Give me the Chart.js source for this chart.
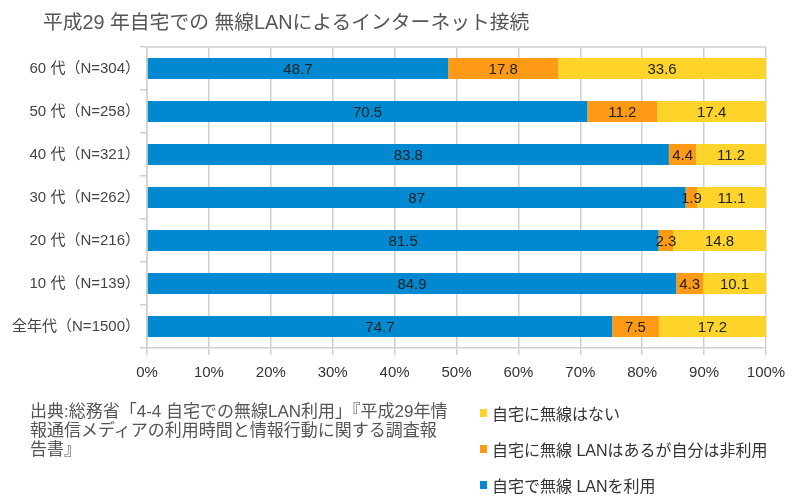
<!DOCTYPE html>
<html>
<head>
<meta charset="utf-8">
<script src="https://cdn.jsdelivr.net/npm/chart.js@4"></script>
<style>
  html,body{margin:0;padding:0;background:#fff;}
  body{width:806px;height:501px;position:relative;overflow:hidden;font-family:"Liberation Sans","Noto Sans CJK JP",sans-serif;}
  #c{position:absolute;left:0;top:0;}
  #title{position:absolute;left:43px;top:6px;font-size:19.8px;color:#555;white-space:nowrap;}
  #source{position:absolute;left:30px;top:402px;width:422px;font-size:17px;line-height:19px;color:#555;}
  #legend{position:absolute;left:480px;top:401px;font-size:16px;color:#333;}
  .li{height:36px;display:flex;align-items:flex-start;white-space:nowrap;}
  .sw{width:7px;height:8px;margin-top:8px;margin-right:5px;}
</style>
</head>
<body>
<canvas id="c" width="806" height="501"></canvas>
<div id="title">平成29 年自宅での 無線LANによるインターネット接続</div>
<div id="source">出典:総務省「4-4 自宅での無線LAN利用」『平成29年情報通信メディアの利用時間と情報行動に関する調査報告書』</div>
<div id="legend"></div>
<script>
const categories = ["60 代（N=304）","50 代（N=258）","40 代（N=321）","30 代（N=262）","20 代（N=216）","10 代（N=139）","全年代（N=1500）"];
const useAtHome   = [48.7, 70.5, 83.8, 87, 81.5, 84.9, 74.7];
const haveNotUse  = [17.8, 11.2, 4.4, 1.9, 2.3, 4.3, 7.5];
const noWireless  = [33.6, 17.4, 11.2, 11.1, 14.8, 10.1, 17.2];
const seriesNames = ["自宅で無線 LANを利用","自宅に無線 LANはあるが自分は非利用","自宅に無線はない"];
const seriesColors = ["#0089d1","#ff9a16","#ffd42a"];
const xTicks = [0,10,20,30,40,50,60,70,80,90,100];

// 100% stacked: each row is normalised to its own total
const series = [useAtHome, haveNotUse, noWireless];
const totals = categories.map((_,i)=>series.reduce((s,d)=>s+d[i],0));
const datasets = series.map((d,i)=>({
  label: seriesNames[i],
  data: d.map((v,j)=>v/totals[j]*100),
  raw: d,
  backgroundColor: seriesColors[i],
  borderWidth: 0, barPercentage: 0.49, categoryPercentage: 1
}));

const labelPlugin = {
  id:'vals',
  afterDatasetsDraw(chart){
    const ctx = chart.ctx;
    ctx.save();
    ctx.font = '15px "Liberation Sans", Arial, sans-serif';
    ctx.fillStyle = '#222';
    ctx.textAlign = 'center';
    ctx.textBaseline = 'middle';
    chart.data.datasets.forEach((ds,di)=>{
      const meta = chart.getDatasetMeta(di);
      meta.data.forEach((bar,i)=>{
        const x = (bar.x + bar.base)/2;
        ctx.fillText(String(ds.raw[i]), x, bar.y+1);
      });
    });
    ctx.restore();
  }
};
const borderPlugin = {
  id:'box',
  afterDraw(chart){
    const a = chart.chartArea, ctx = chart.ctx;
    ctx.save();
    ctx.strokeStyle = '#cfcfcf';
    ctx.lineWidth = 1.5;
    ctx.beginPath();
    ctx.moveTo(a.left, a.top); ctx.lineTo(a.right, a.top);
    ctx.stroke();
    ctx.restore();
  }
};

new Chart(document.getElementById('c'), {
  type:'bar',
  data:{ labels: categories, datasets },
  options:{
    indexAxis:'y',
    responsive:false,
    animation:false,
    layout:{ padding:{ top:47, right:40, left:0, bottom:113 } },
    plugins:{ legend:{display:false}, title:{display:false}, tooltip:{enabled:false} },
    scales:{
      x:{
        stacked:true, min:0, max:100,
        afterBuildTicks(s){ s.ticks = xTicks.map(v=>({value:v})); },
        afterFit(s){ s.height = 40; },
        grid:{ color:'#cfcfcf', lineWidth:1.5, tickLength:7, drawTicks:true },
        border:{ color:'#cfcfcf', width:1.5 },
        ticks:{ callback:v=>v+'%', color:'#333', padding:9, maxRotation:0,
                font:{ size:15, family:'"Liberation Sans", Arial, sans-serif' } }
      },
      y:{
        stacked:true,
        afterFit(s){ s.width = 147; },
        grid:{ drawOnChartArea:false, drawTicks:true, tickLength:7, color:'#cfcfcf', lineWidth:1.5, offset:true },
        border:{ color:'#cfcfcf', width:1.5 },
        ticks:{ color:'#444', padding:0, font:{ size:15, family:'"Liberation Sans","Noto Sans CJK JP", sans-serif' } }
      }
    }
  },
  plugins:[labelPlugin, borderPlugin]
});

const lg = document.getElementById('legend');
for (let i = seriesNames.length-1; i>=0; i--) {
  const row = document.createElement('div'); row.className='li';
  const sw = document.createElement('span'); sw.className='sw'; sw.style.background = seriesColors[i];
  const t = document.createElement('span'); t.textContent = seriesNames[i];
  row.appendChild(sw); row.appendChild(t); lg.appendChild(row);
}
</script>
</body>
</html>
